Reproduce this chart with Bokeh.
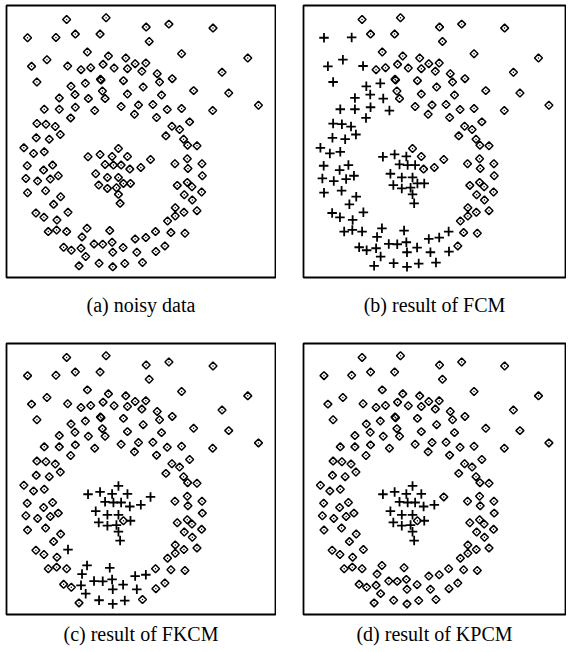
import math
from bokeh.plotting import figure
from bokeh.models import Range1d
from bokeh.layouts import column, row
from bokeh.embed import file_html
from bokeh.resources import INLINE

# point coordinates (same noisy data set in every panel)
xs = [21.5, 33.3, 45.3, 52.1, 65.3, 9.8, 18.3, 24.1, 31.5, 46.2,
      27.7, 34.0, 39.2, 55.9, 75.7, 11.0, 15.6, 21.8, 25.8, 28.7,
      32.4, 35.7, 39.7, 42.0, 45.2, 44.0, 48.6, 68.0, 12.6, 31.6,
      31.8, 38.5, 49.3, 53.1, 22.8, 27.1, 44.4, 24.0, 32.2, 39.7,
      49.9, 59.5, 70.0, 19.3, 28.0, 33.0, 14.8, 19.3, 24.1, 29.9,
      37.8, 43.0, 47.3, 51.6, 55.9, 65.2, 78.9, 22.7, 41.8, 48.4,
      12.6, 15.3, 18.1, 53.0, 55.3, 58.3, 12.4, 16.3, 19.6, 51.2,
      56.5, 57.7, 60.5, 8.7, 11.6, 14.8, 37.0, 27.9, 31.5, 35.1,
      39.7, 46.6, 57.6, 9.7, 14.6, 17.3, 33.0, 35.5, 37.8, 40.4,
      43.7, 53.9, 57.8, 62.0, 9.3, 12.8, 16.6, 19.0, 30.2, 33.7,
      37.0, 62.1, 31.1, 33.7, 36.4, 38.5, 40.6, 54.6, 57.6, 59.0,
      9.8, 15.2, 19.7, 37.0, 56.7, 61.9, 17.6, 37.5, 59.1, 12.3,
      14.7, 18.6, 21.9, 54.0, 56.6, 60.5, 51.7, 54.0, 16.0, 18.5,
      21.5, 27.6, 26.1, 34.4, 42.0, 45.2, 48.1, 52.7, 56.9, 20.6,
      22.9, 25.8, 29.7, 32.3, 35.1, 38.4, 35.3, 50.9, 27.2, 42.5,
      48.2, 25.2, 31.2, 35.3, 38.9, 44.2]
ys = [79.8, 80.3, 77.5, 78.4, 77.2, 74.3, 74.4, 75.4, 75.4, 73.2,
      70.0, 68.8, 68.2, 69.5, 68.2, 65.7, 67.7, 65.8, 64.7, 65.3,
      66.3, 65.2, 65.0, 66.5, 66.7, 64.2, 63.5, 63.9, 61.0, 61.8,
      61.6, 61.4, 61.0, 62.0, 59.7, 60.6, 59.5, 57.2, 58.3, 57.4,
      57.1, 58.4, 57.7, 56.2, 56.0, 56.0, 52.8, 52.8, 53.4, 52.4,
      53.6, 54.1, 54.2, 52.7, 53.0, 52.4, 54.0, 50.2, 51.3, 50.3,
      48.5, 48.3, 47.6, 47.7, 46.7, 49.0, 44.2, 43.8, 45.2, 44.8,
      43.8, 42.0, 41.8, 41.2, 39.5, 40.0, 41.0, 38.5, 39.2, 38.6,
      38.6, 37.7, 37.9, 35.8, 34.5, 36.0, 36.2, 36.0, 36.0, 34.8,
      35.3, 36.4, 35.0, 36.4, 32.0, 31.2, 31.8, 32.8, 33.4, 32.3,
      32.3, 32.8, 30.0, 29.0, 29.2, 30.5, 30.5, 29.9, 30.8, 29.5,
      27.7, 28.3, 26.5, 27.2, 27.1, 27.9, 24.2, 24.5, 25.5, 21.6,
      20.3, 19.5, 21.8, 23.2, 21.8, 22.3, 19.2, 20.7, 16.0, 16.5,
      16.0, 17.0, 14.4, 16.3, 13.8, 14.2, 16.0, 15.7, 15.5, 11.3,
      10.4, 11.0, 12.3, 12.2, 12.8, 11.2, 9.8, 11.7, 8.5, 9.8,
      10.0, 5.7, 6.5, 5.4, 6.4, 6.7]

# cluster labels: 1 = "+" cluster, 0 = diamond cluster
fcm = [0, 0, 0, 0, 0, 1, 1, 0, 0, 0,
       0, 0, 0, 0, 0, 1, 1, 1, 0, 0,
       0, 0, 0, 0, 0, 0, 0, 0, 1, 0,
       0, 0, 0, 0, 1, 1, 0, 1, 0, 0,
       0, 0, 0, 1, 1, 0, 1, 1, 1, 1,
       0, 0, 0, 0, 0, 0, 0, 1, 0, 0,
       1, 1, 1, 0, 0, 0, 1, 1, 1, 0,
       0, 0, 0, 1, 1, 1, 0, 1, 1, 1,
       0, 0, 0, 1, 1, 1, 1, 1, 1, 0,
       0, 0, 0, 0, 1, 1, 1, 1, 1, 1,
       1, 0, 1, 1, 1, 1, 1, 0, 0, 0,
       1, 1, 1, 1, 0, 0, 1, 1, 0, 1,
       1, 1, 1, 0, 0, 0, 0, 0, 1, 1,
       1, 1, 1, 1, 1, 1, 1, 0, 0, 1,
       1, 1, 1, 1, 1, 1, 1, 0, 1, 1,
       1, 1, 1, 1, 1, 1]
fkcm = [0, 0, 0, 0, 0, 0, 0, 0, 0, 0,
        0, 0, 0, 0, 0, 0, 0, 0, 0, 0,
        0, 0, 0, 0, 0, 0, 0, 0, 0, 0,
        0, 0, 0, 0, 0, 0, 0, 0, 0, 0,
        0, 0, 0, 0, 0, 0, 0, 0, 0, 0,
        0, 0, 0, 0, 0, 0, 0, 0, 0, 0,
        0, 0, 0, 0, 0, 0, 0, 0, 0, 0,
        0, 0, 0, 0, 0, 0, 1, 1, 1, 1,
        1, 1, 0, 0, 0, 0, 1, 1, 1, 1,
        1, 0, 0, 0, 0, 0, 0, 0, 1, 1,
        1, 0, 1, 1, 1, 0, 1, 0, 0, 0,
        0, 0, 0, 1, 0, 0, 0, 1, 0, 0,
        0, 0, 1, 0, 0, 0, 0, 0, 0, 0,
        0, 1, 1, 1, 1, 1, 0, 0, 0, 0,
        0, 1, 1, 1, 1, 1, 1, 0, 1, 1,
        0, 0, 1, 1, 1, 0]
kpcm = [0, 0, 0, 0, 0, 0, 0, 0, 0, 0,
        0, 0, 0, 0, 0, 0, 0, 0, 0, 0,
        0, 0, 0, 0, 0, 0, 0, 0, 0, 0,
        0, 0, 0, 0, 0, 0, 0, 0, 0, 0,
        0, 0, 0, 0, 0, 0, 0, 0, 0, 0,
        0, 0, 0, 0, 0, 0, 0, 0, 0, 0,
        0, 0, 0, 0, 0, 0, 0, 0, 0, 0,
        0, 0, 0, 0, 0, 0, 1, 1, 1, 1,
        1, 0, 0, 0, 0, 0, 1, 1, 1, 1,
        1, 0, 0, 0, 0, 0, 0, 0, 1, 1,
        1, 0, 1, 1, 1, 0, 1, 0, 0, 0,
        0, 0, 0, 1, 0, 0, 0, 1, 0, 0,
        0, 0, 0, 0, 0, 0, 0, 0, 0, 0,
        0, 0, 0, 0, 0, 0, 0, 0, 0, 0,
        0, 0, 0, 0, 0, 0, 0, 0, 0, 0,
        0, 0, 0, 0, 0, 0]
captions = ["(a) noisy data", "(b) result of FCM",
            "(c) result of FKCM", "(d) result of KPCM"]
no_labels = [0] * len(xs)

FONT = "Liberation Serif"


def panel(labels, caption, width, height, top, bottom, left, right, standoff):
    p = figure(width=width, height=height, output_backend="svg",
               toolbar_location=None, x_axis_type=None, y_axis_type=None,
               x_range=Range1d(3.5, 84.0), y_range=Range1d(2.2, 84.0),
               min_border_top=top, min_border_bottom=bottom,
               min_border_left=left, min_border_right=right,
               title_location="below", title=caption)
    p.grid.visible = False
    p.outline_line_color = "black"
    p.outline_line_width = 1.8
    p.background_fill_color = "white"
    p.border_fill_color = "white"
    p.title.align = "center"
    p.title.text_font = FONT
    p.title.text_font_size = "20px"
    p.title.text_font_style = "normal"
    p.title.text_color = "black"
    p.title.standoff = standoff
    dx = [x for x, l in zip(xs, labels) if l == 0]
    dy = [y for y, l in zip(ys, labels) if l == 0]
    cx = [x for x, l in zip(xs, labels) if l == 1]
    cy = [y for y, l in zip(ys, labels) if l == 1]
    p.scatter(dx, dy, marker="square_dot", angle=math.pi / 4, size=5.6,
              fill_color=None, line_color="black", line_width=1.5)
    if cx:
        p.scatter(cx, cy, marker="cross", size=9.5, line_color="black",
                  line_width=1.8)
    return p


pa = panel(no_labels, captions[0], 276, 338, 5, 61, 6, 1, 28)
pb = panel(fcm, captions[1], 264, 338, 5, 61, 1, 1, 28)
pc = panel(fkcm, captions[2], 276, 312, 5, 35, 6, 1, 12)
pd = panel(kpcm, captions[3], 264, 312, 5, 35, 1, 1, 12)

layout = column(row(pa, pb, spacing=26), row(pc, pd, spacing=26), spacing=0)

open("out.html", "w").write(file_html(layout, INLINE))
